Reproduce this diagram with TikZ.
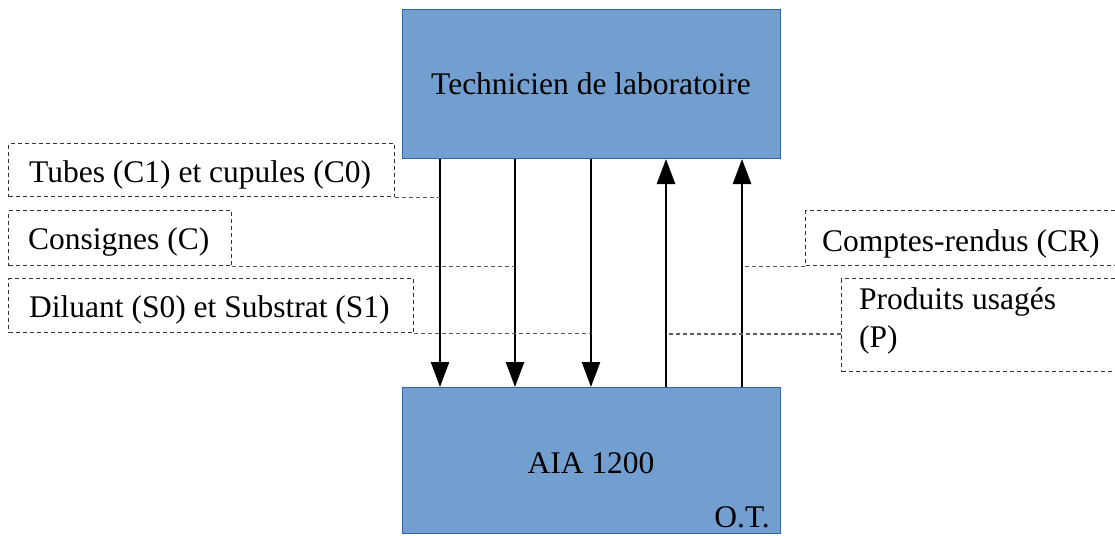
\documentclass[tikz,border=0pt]{standalone}
\usepackage{fontspec}
\setmainfont{Liberation Serif}
\usetikzlibrary{arrows.meta}
\definecolor{boxfill}{HTML}{729FCF}
\definecolor{boxline}{HTML}{3465A4}
\definecolor{dashline}{HTML}{333333}
\tikzset{
  block/.style={draw=boxline, fill=boxfill, line width=1pt, rectangle, anchor=north west, inner sep=0pt},
  lbl/.style={draw=dashline, dash pattern=on 4pt off 3pt, line width=1.1pt, rectangle, anchor=north west, inner sep=0pt},
  lead/.style={draw=dashline!80, dash pattern=on 4pt off 3pt, line width=1.1pt},
  arr/.style={line width=2.5pt, -{Triangle[length=25pt,width=18pt]}},
  txt/.style={font=\fontsize{31.5}{38}\selectfont, inner sep=0pt, anchor=base west, align=left}
}
\begin{document}
\begin{tikzpicture}[x=1pt,y=-1pt]
\useasboundingbox (0,0) rectangle (1115,535);
\clip (0,0) rectangle (1115,535);
\fill[white] (0,0) rectangle (1115,535);
% main blocks
\node[block, minimum width=378pt, minimum height=149pt] (T) at (402,9) {};
\node[txt, anchor=base] (Tt) at (591,94) {Technicien de laboratoire};
\node[block, minimum width=378pt, minimum height=146pt] (A) at (402,387) {};
\node[txt, anchor=base] (At) at (591,473) {AIA 1200};
\node[txt, anchor=base east] (OT) at (770,527) {O.T.};
% arrow x positions
\coordinate (x1) at (440,0);
\coordinate (x2) at (515,0);
\coordinate (x3) at (591,0);
\coordinate (x4) at (666,0);
\coordinate (x5) at (742,0);
\draw[arr] (x1 |- T.south) -- (x1 |- A.north);
\draw[arr] (x2 |- T.south) -- (x2 |- A.north);
\draw[arr] (x3 |- T.south) -- (x3 |- A.north);
\draw[arr] (x4 |- A.north) -- (x4 |- T.south);
\draw[arr] (x5 |- A.north) -- (x5 |- T.south);
% label boxes
\node[lbl, minimum width=386pt, minimum height=53pt] (tub) at (8,143) {};
\node[lbl, minimum width=223pt, minimum height=55pt] (con) at (8,210) {};
\node[lbl, minimum width=405pt, minimum height=54pt] (dil) at (8,278) {};
\node[lbl, minimum width=330pt, minimum height=55pt] (cr) at (805,210) {};
\node[lbl, minimum width=300pt, minimum height=93pt] (pr) at (841,278) {};
% label texts
\node[txt] (tubt) at (29,182) {Tubes (C1) et cupules (C0)};
\node[txt] (cont) at (28,249) {Consignes (C)};
\node[txt] (dilt) at (29,317) {Diluant (S0) et Substrat (S1)};
\node[txt] (crt) at (822,251) {Comptes-rendus (CR)};
\node[txt] (prt) at (859,347) {Produits usagés\\(P)};
% leader lines
\draw[lead] (tub.south east) -- (x1 |- tub.south east);
\draw[lead] (con.south east) -- (x2 |- con.south east);
\draw[lead] (dil.south east) -- (x3 |- dil.south east);
\draw[lead] (cr.south west) -- (x5 |- cr.south west);
\coordinate (prl) at ([yshift=-56pt]pr.north west);
\draw[lead] (prl) -- (x4 |- prl);
\end{tikzpicture}
\end{document}
